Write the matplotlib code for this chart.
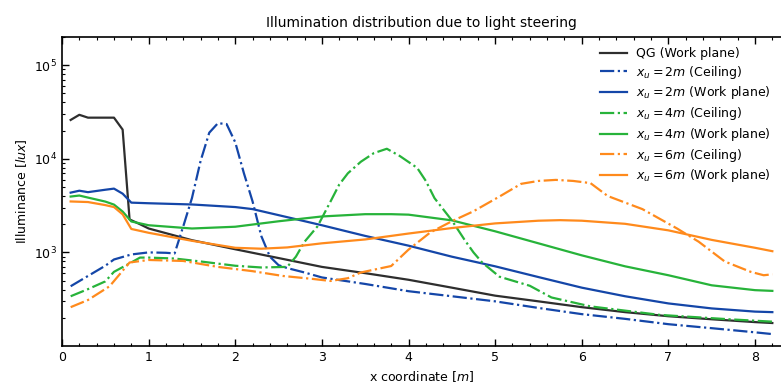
import matplotlib
matplotlib.use("Agg")
import matplotlib.pyplot as plt
from matplotlib.ticker import LogLocator, MultipleLocator, NullFormatter

# ---- data ----
qg_x = [0.1, 0.2, 0.3, 0.4, 0.5, 0.6, 0.7, 0.78, 0.9, 1.0, 1.5, 2.0, 2.5, 3.0, 3.5, 4.0, 4.5, 5.0, 5.5, 6.0, 6.5, 7.0, 7.5, 8.0, 8.2]
qg_y = [26000, 29500, 27500, 27500, 27500, 27500, 20500, 2250, 2000, 1800, 1350, 1080, 870, 700, 600, 510, 420, 345, 300, 260, 230, 208, 193, 180, 176]

c2_x = [0.1, 0.3, 0.5, 0.6, 0.8, 1.0, 1.2, 1.3, 1.4, 1.5, 1.6, 1.7, 1.8, 1.9, 2.0, 2.1, 2.2, 2.3, 2.4, 2.5, 2.6, 2.8, 3.0, 3.5, 4.0, 4.5, 5.0, 5.5, 6.0, 6.5, 7.0, 7.5, 8.0, 8.2]
c2_y = [435, 560, 720, 840, 950, 1000, 990, 975, 1900, 3800, 9500, 19000, 24000, 23500, 15000, 7000, 3500, 1500, 900, 730, 680, 610, 540, 460, 385, 340, 300, 255, 219, 195, 171, 155, 140, 134]

w2_x = [0.1, 0.2, 0.3, 0.5, 0.6, 0.7, 0.8, 1.0, 1.5, 2.0, 2.2, 2.5, 3.0, 3.5, 4.0, 4.5, 5.0, 5.5, 6.0, 6.5, 7.0, 7.5, 8.0, 8.2]
w2_y = [4350, 4560, 4400, 4670, 4800, 4240, 3400, 3350, 3250, 3050, 2900, 2500, 1950, 1500, 1180, 900, 710, 545, 420, 340, 285, 252, 233, 230]

c4_x = [0.1, 0.3, 0.5, 0.6, 0.8, 0.9, 1.0, 1.3, 1.6, 2.0, 2.3, 2.6, 2.7, 2.8, 2.95, 3.1, 3.2, 3.3, 3.45, 3.6, 3.75, 3.9, 4.1, 4.2, 4.3, 4.5, 4.65, 4.75, 4.85, 5.05, 5.4, 5.65, 6.1, 6.9, 7.7, 8.2]
c4_y = [340, 405, 490, 620, 780, 880, 880, 860, 800, 720, 690, 700, 900, 1300, 1900, 3500, 5300, 7000, 9300, 11500, 12800, 10700, 8000, 5800, 3800, 2200, 1350, 1000, 780, 550, 440, 330, 265, 215, 193, 182]

w4_x = [0.1, 0.2, 0.3, 0.5, 0.6, 0.7, 0.8, 1.0, 1.5, 2.0, 2.5, 3.0, 3.5, 3.8, 4.0, 4.5, 5.0, 5.5, 6.0, 6.5, 7.0, 7.5, 8.0, 8.2]
w4_y = [3950, 4050, 3850, 3490, 3240, 2730, 2140, 1950, 1800, 1880, 2150, 2420, 2560, 2560, 2530, 2200, 1680, 1250, 930, 710, 570, 445, 395, 388]

c6_x = [0.1, 0.3, 0.55, 0.78, 1.0, 1.4, 1.8, 2.2, 2.55, 2.9, 3.1, 3.3, 3.45, 3.8, 4.0, 4.25, 4.5, 4.75, 5.05, 5.3, 5.5, 5.7, 5.9, 6.1, 6.3, 6.7, 7.1, 7.35, 7.65, 7.95, 8.1, 8.2]
c6_y = [260, 310, 435, 780, 830, 810, 700, 630, 560, 520, 495, 530, 610, 715, 1070, 1630, 2150, 2750, 3950, 5400, 5800, 5950, 5800, 5500, 4000, 2900, 1800, 1300, 800, 620, 570, 583]

w6_x = [0.1, 0.3, 0.5, 0.6, 0.7, 0.8, 1.0, 1.5, 2.0, 2.3, 2.6, 3.0, 3.5, 4.0, 4.5, 5.0, 5.5, 5.75, 6.0, 6.5, 7.0, 7.5, 8.0, 8.2]
w6_y = [3500, 3450, 3200, 3050, 2550, 1780, 1620, 1330, 1120, 1095, 1130, 1250, 1375, 1590, 1820, 2040, 2180, 2210, 2180, 2020, 1720, 1360, 1120, 1030]

labels = ["QG (Work plane)",
          r"$x_u = 2m$ (Ceiling)", r"$x_u = 2m$ (Work plane)",
          r"$x_u = 4m$ (Ceiling)", r"$x_u = 4m$ (Work plane)",
          r"$x_u = 6m$ (Ceiling)", r"$x_u = 6m$ (Work plane)"]

BLACK = "#2e2e2e"
BLUE = "#1446a8"
GREEN = "#27b33a"
ORANGE = "#ff8a1c"

fig = plt.figure(figsize=(7.81, 3.85), dpi=100)
ax = fig.add_axes([62/781, 1-346/385, 1-62/781, (346-37)/385])

lw = 1.6
ax.plot(qg_x, qg_y, color=BLACK, lw=lw, ls="-", label=labels[0])
ax.plot(c2_x, c2_y, color=BLUE, lw=lw, ls="-.", label=labels[1])
ax.plot(w2_x, w2_y, color=BLUE, lw=lw, ls="-", label=labels[2])
ax.plot(c4_x, c4_y, color=GREEN, lw=lw, ls="-.", label=labels[3])
ax.plot(w4_x, w4_y, color=GREEN, lw=lw, ls="-", label=labels[4])
ax.plot(c6_x, c6_y, color=ORANGE, lw=lw, ls="-.", label=labels[5])
ax.plot(w6_x, w6_y, color=ORANGE, lw=lw, ls="-", label=labels[6])

ax.set_yscale("log")
ax.set_xlim(0, 8.3)
ax.set_ylim(1e2, 2e5)
ax.set_yticks([1e3, 1e4, 1e5])
ax.yaxis.set_minor_locator(LogLocator(base=10, subs=range(2, 10)))
ax.yaxis.set_minor_formatter(NullFormatter())
ax.xaxis.set_major_locator(MultipleLocator(1))
ax.xaxis.set_minor_locator(MultipleLocator(0.2))

ax.tick_params(which="both", direction="in", top=True, right=False, labelsize=9)
ax.tick_params(which="major", length=5, width=1)
ax.tick_params(which="minor", length=2.5, width=0.8)
for s in ["left", "bottom", "top"]:
    ax.spines[s].set_linewidth(1.2)
ax.spines["right"].set_visible(False)

ax.set_title("Illumination distribution due to light steering", fontsize=10, pad=7)
ax.set_xlabel(r"x coordinate [$m$]", fontsize=9, labelpad=4)
ax.set_ylabel(r"Illuminance [$lux$]", fontsize=9, labelpad=4)

ax.legend(loc="upper right", frameon=False, fontsize=9, handlelength=2.2,
          handletextpad=0.7, borderaxespad=0.4, labelspacing=0.3)

fig.savefig("out.png", dpi=100)
